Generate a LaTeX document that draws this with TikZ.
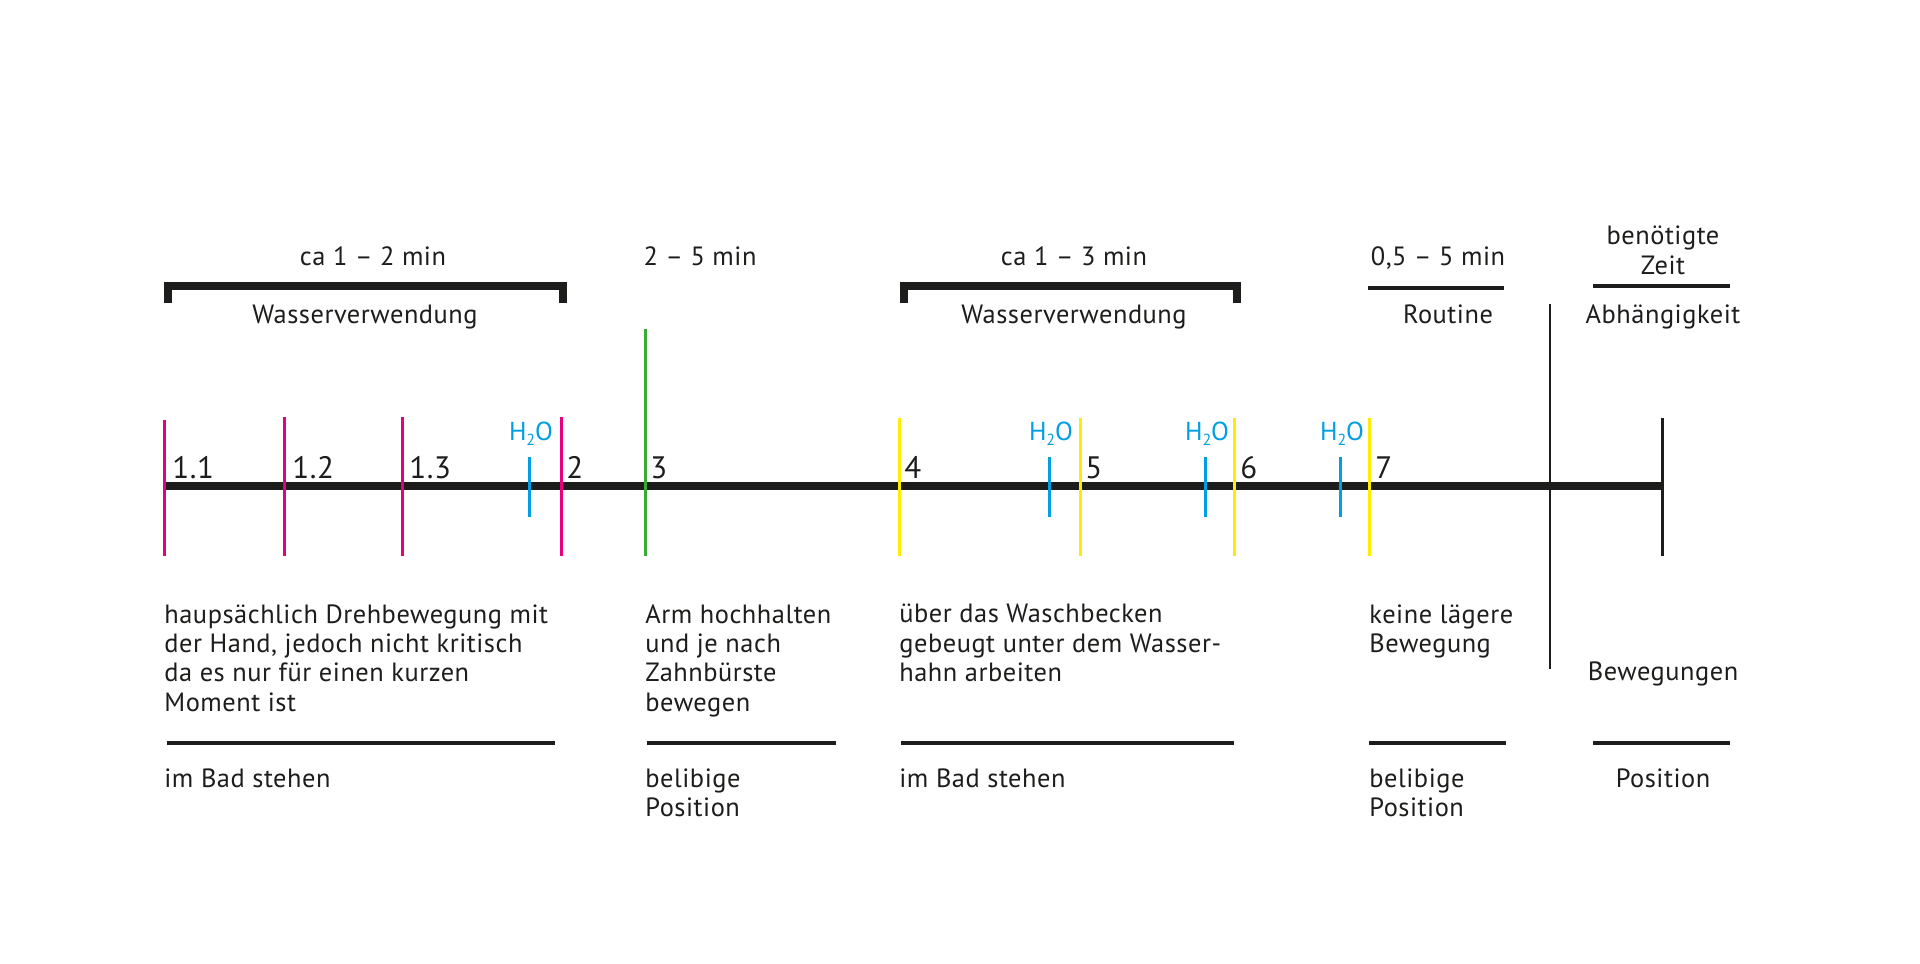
\documentclass[tikz,border=0pt]{standalone}
\usepackage{fontspec}
\setmainfont{PT Sans}[LetterSpace=2]
\definecolor{ink}{HTML}{1D1D1B}
\definecolor{mag}{HTML}{E6007E}
\definecolor{cy}{HTML}{009FE3}
\definecolor{yel}{HTML}{FFED00}
\definecolor{grn}{HTML}{3AAA35}
\newcommand{\hzo}{H\raisebox{-0.45ex}{\fontsize{8}{8}\selectfont 2}O}
\begin{document}
\begin{tikzpicture}[x=0.5pt,y=-0.5pt,
  txt/.style={font=\fontsize{13.2}{14.7}\selectfont, text=ink, inner sep=0pt},
  para/.style={txt, align=left, anchor=north west},
  cpara/.style={txt, align=center, anchor=base},
  num/.style={font=\fontsize{15.5}{18}\selectfont, text=ink, inner sep=0pt, anchor=base west},
  wlab/.style={font=\fontsize{13}{14.7}\selectfont, text=cy, inner sep=0pt, anchor=base},
  tick/.style={line width=1.5pt},
  wtick/.style={line width=1.5pt, draw=cy},
  bar/.style={line width=4pt, draw=ink, line cap=butt, line join=miter},
  rule/.style={line width=1.7pt, draw=ink},
]
\useasboundingbox (0,0) rectangle (1920,963);
\fill[white] (0,0) rectangle (1920,963);

% main axis
\coordinate (a0) at (164,486);
\coordinate (a1) at (1662,486);
\draw[bar] (a0) -- (a1);

% ticks
\draw[tick, draw=mag] (164,420) -- (164,556);
\draw[tick, draw=mag] (284,417) -- (284,556);
\draw[tick, draw=mag] (402,417) -- (402,556);
\draw[tick, draw=mag] (561,417) -- (561,556);
\draw[tick, draw=grn] (645,329) -- (645,556);
\draw[tick, draw=yel] (899,418) -- (899,556);
\draw[tick, draw=yel] (1080,418) -- (1080,556);
\draw[tick, draw=yel] (1234,418) -- (1234,556);
\draw[tick, draw=yel] (1369,418) -- (1369,556);
\draw[tick, draw=ink] (1662,418) -- (1662,556);
\draw[line width=1.3pt, draw=ink] (1550,304) -- (1550,669);

% water ticks
\draw[wtick] (529,457) -- (529,517);
\draw[wtick] (1049,457) -- (1049,517);
\draw[wtick] (1205,457) -- (1205,517);
\draw[wtick] (1340,457) -- (1340,517);

% water labels
\node[wlab] (w1) at (531,440) {\hzo};
\node[wlab] (w2) at (1051,440) {\hzo};
\node[wlab] (w3) at (1207,440) {\hzo};
\node[wlab] (w4) at (1342,440) {\hzo};

% number labels
\node[num] (n11) at (172,478) {1.1};
\node[num] (n12) at (292,478) {1.2};
\node[num] (n13) at (409,478) {1.3};
\node[num] (n2) at (566,478) {2};
\node[num] (n3) at (650,478) {3};
\node[num] (n4) at (904,478) {4};
\node[num] (n5) at (1085,478) {5};
\node[num] (n6) at (1240,478) {6};
\node[num] (n7) at (1375,478) {7};

% brackets
\draw[bar] (168,303) -- (168,286) -- (563,286) -- (563,303);
\draw[bar] (904,303) -- (904,286) -- (1237,286) -- (1237,303);

% top labels
\node[cpara] (t1) at (373,265) {ca 1 -- 2 min};
\node[cpara] (u1) at (365,323) {Wasserverwendung};
\node[cpara] (t2) at (700,265) {2 -- 5 min};
\node[cpara] (t3) at (1074,265) {ca 1 -- 3 min};
\node[cpara] (u3) at (1074,323) {Wasserverwendung};
\node[cpara] (t4) at (1438,265) {0,5 -- 5 min};
\draw[rule] (1368,288) -- (1504,288);
\node[cpara] (u4) at (1448,323) {Routine};
\node[cpara] (t5) at (1663,274) {benötigte\\Zeit};
\draw[rule] (1593,286) -- (1730,286);
\node[cpara] (u5) at (1663,323) {Abhängigkeit};

% bottom descriptions
\node[para] (d1) at (164,604) {haupsächlich Drehbewegung mit\\der Hand, jedoch nicht kritisch\\da es nur für einen kurzen\\Moment ist};
\node[para] (d3) at (645,604) {Arm hochhalten\\und je nach\\Zahnbürste\\bewegen};
\node[para] (d4) at (899,604) {über das Waschbecken\\gebeugt unter dem Wasser-\\hahn arbeiten};
\node[para] (d7) at (1369,604) {keine lägere\\Bewegung};
\node[cpara] (d8) at (1663,680) {Bewegungen};

% rules
\draw[rule] (167,743) -- (555,743);
\draw[rule] (647,743) -- (836,743);
\draw[rule] (901,743) -- (1234,743);
\draw[rule] (1369,743) -- (1506,743);
\draw[rule] (1593,743) -- (1730,743);

% positions
\node[para] (p1) at (164,768) {im Bad stehen};
\node[para] (p3) at (645,768) {belibige\\Position};
\node[para] (p4) at (899,768) {im Bad stehen};
\node[para] (p7) at (1369,768) {belibige\\Position};
\node[cpara] (p8) at (1663,787) {Position};
\end{tikzpicture}
\end{document}
